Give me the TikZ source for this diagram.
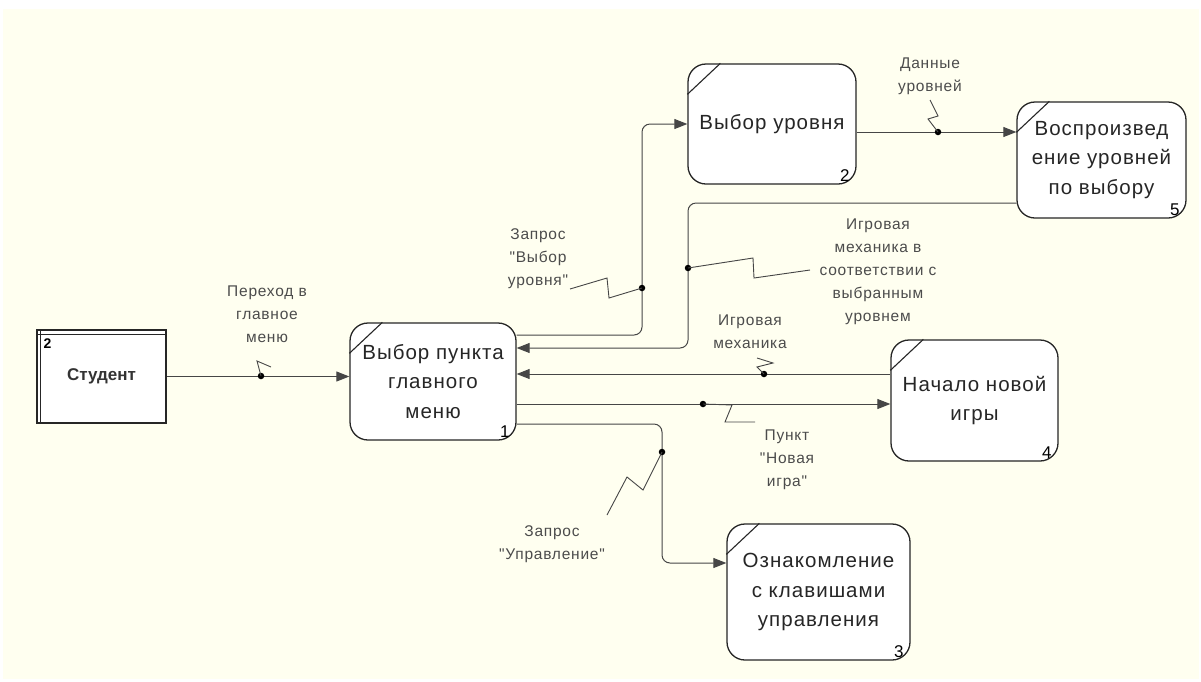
\documentclass[tikz,border=0pt]{standalone}
\usepackage{fontspec}
\usetikzlibrary{arrows.meta,calc}
\newfontfamily\pfont[LetterSpace=5]{Liberation Sans}
\newfontfamily\lfont[LetterSpace=5]{Liberation Sans}
\newfontfamily\sfontb{Liberation Sans}
\definecolor{cream}{RGB}{255,255,240}
\definecolor{ln}{RGB}{70,70,70}
\tikzset{
  proc/.style={draw=black!85, line width=1.3pt, rounded corners=18pt, fill=white, align=center,
     font=\pfont\fontsize{20.5}{29.5}\selectfont, text=black!85, inner sep=0pt},
  flow/.style={draw=ln, line width=1pt, rounded corners=8pt},
  arr/.style={-{Triangle[length=13pt,width=10pt]}},
  sq/.style={draw=ln, line width=0.9pt},
  lab/.style={font=\lfont\fontsize{15.5}{23}\selectfont, text=black!70, align=center, inner sep=0pt},
  num/.style={font=\sfontb\fontsize{17}{17}\selectfont, inner sep=0pt, anchor=south east},
  dotc/.style={circle, fill=black, inner sep=0pt, minimum size=6.5pt}
}
\begin{document}
\begin{tikzpicture}[x=1pt,y=-1pt]
\useasboundingbox (0,0) rectangle (1201,681);
\fill[white] (0,0) rectangle (1201,681);
\fill[cream] (3,9) rectangle (1199,679);

% external entity
\node[draw=black!85, line width=1.3pt, fill=white, minimum width=129pt, minimum height=93pt, inner sep=0pt,
      font=\sfontb\bfseries\fontsize{17}{17}\selectfont, text=black!80] (st) at (101.5,376.5) {Студент};
\draw[black!85, line width=1.1pt] ($(st.north west)+(4.5,0)$) -- ($(st.south west)+(4.5,0)$);
\draw[black!85, line width=1.1pt] ($(st.north west)+(0,5)$) -- ($(st.north east)+(0,5)$);
\node[font=\sfontb\bfseries\fontsize{14}{14}\selectfont, anchor=north west, inner sep=0pt] (stn) at ($(st.north west)+(7,9)$) {2};

% processes
\node[proc, minimum width=166pt, minimum height=117pt] (p1) at (433,381.5) {Выбор пункта\\главного\\меню};
\node[proc, minimum width=168pt, minimum height=120pt] (p2) at (772,124) {Выбор уровня};
\node[proc, minimum width=169pt, minimum height=116pt] (p5) at (1101.5,160) {Воспроизвед\\ение уровней\\по выбору};
\node[proc, minimum width=167pt, minimum height=121pt] (p4) at (974.5,400.5) {Начало новой\\игры};
\node[proc, minimum width=183pt, minimum height=136pt] (p3) at (818.5,592) {Ознакомление\\с клавишами\\управления};

\foreach \p/\n in {p1/1,p2/2,p5/5,p4/4,p3/3}{
  \draw[black!85, line width=1.1pt] ($(\p.north west)+(0,31)$) -- ($(\p.north west)+(33,0)$);
  \node[num] (n\p) at ($(\p.south east)+(-7,-3)$) {\n};
}

% connectors
\draw[flow, arr] (st.east) -- (st.east -| p1.west);
\draw[flow, arr] (p1.east |- 0,335) -- (642,335) -- (642,124) -- (p2.west);
\draw[flow, arr] (p2.east |- 0,132) -- (p5.west |- 0,132);
\draw[flow, arr] (p5.west |- 0,203) -- (688,203) -- (688,348) -- (p1.east |- 0,348);
\draw[flow, arr] (p4.west |- 0,374) -- (p1.east |- 0,374);
\draw[flow, arr] (p1.east |- 0,404) -- (p4.west |- 0,404);
\draw[flow, arr] (p1.east |- 0,424) -- (662,424) -- (662,563) -- (p3.west |- 0,563);

% dots
\node[dotc] (d1) at (261,376) {};
\node[dotc] (d2) at (642,288) {};
\node[dotc] (d3) at (938,132) {};
\node[dotc] (d4) at (688,268) {};
\node[dotc] (d5) at (764,374) {};
\node[dotc] (d6) at (703,404) {};
\node[dotc] (d7) at (662,452) {};

% labels
\node[lab] (l1) at (267,314) {Переход в\\главное\\меню};
\node[lab] (l2) at (538,259) {Запрос\\"Выбор\\уровня"};
\node[lab] (l3) at (930,76) {Данные\\уровней};
\node[lab] (l4) at (878,272) {Игровая\\механика в\\соответствии с\\выбранным\\уровнем};
\node[lab] (l5) at (750,332) {Игровая\\механика};
\node[lab] (l6) at (787,460) {Пункт\\"Новая\\игра"};
\node[lab] (l7) at (552,544) {Запрос\\"Управление"};

% squiggles
\draw[sq] (d1.center) -- (257,361) -- (271,367);
\draw[sq] (570,289) -- (607,278) -- (609,298) -- (d2.center);
\draw[sq] (930,100) -- (938,116) -- (928,119) -- (d3.center);
\draw[sq] (d4.center) -- (753,258) -- (754,278) -- (810,270);
\draw[sq] (757,358) -- (773,363) -- (757,367) -- (d5.center);
\draw[sq] (d6.center) -- (732,405) -- (725,422) -- (755,422);
\draw[sq] (d7.center) -- (643,490) -- (627,477) -- (607,515);
\end{tikzpicture}
\end{document}
